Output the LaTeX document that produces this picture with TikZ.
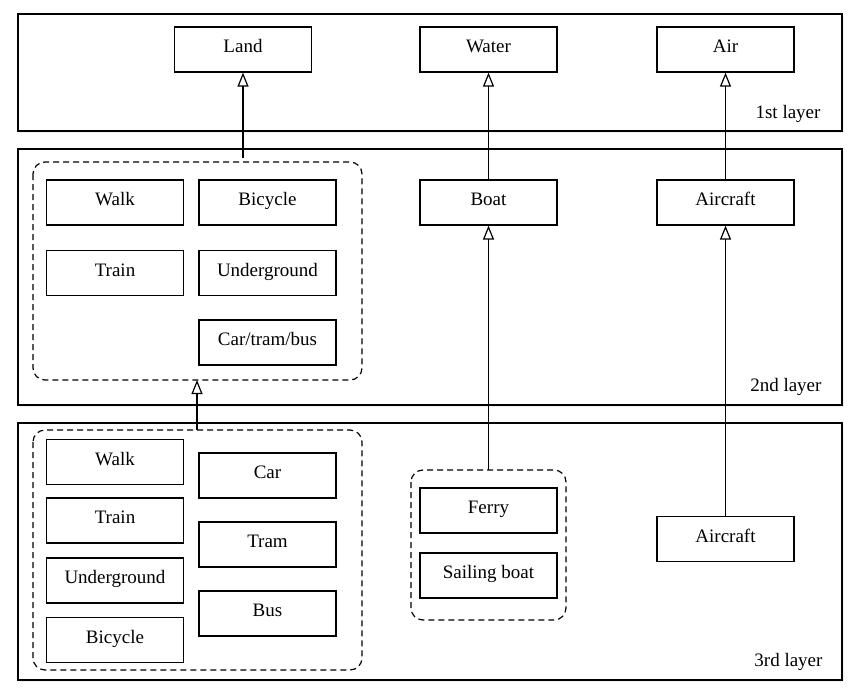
\documentclass[tikz,border=0pt]{standalone}
\usepackage{fontspec}
\setmainfont{Liberation Serif}
\usetikzlibrary{arrows.meta,shadows}

\begin{document}
\begin{tikzpicture}[x=1pt,y=1pt]
	\tikzstyle{every node}+=[font=\fontsize{19}{22}\selectfont]
	\tikzstyle{layer}=[draw=black, fill=white, line width=1.2pt, drop shadow={opacity=0.12, shadow xshift=2pt, shadow yshift=-2pt}]
	\tikzstyle{box}=[draw=black, fill=white, line width=1.2pt, minimum width=137pt, minimum height=45pt, inner sep=0pt, text height=12pt, text depth=6pt]
	\tikzstyle{group}=[draw=black, line width=1.2pt, rounded corners=12pt, dash pattern=on 6pt off 4pt]
	\tikzstyle{up}=[-{Triangle[open, length=14pt, width=11pt]}, line width=1.2pt]
	\useasboundingbox (0,0) rectangle (866,-699);
	% layers
	\draw [layer] (18,-14) rectangle (842,-131);
	\draw [layer] (18,-149) rectangle (842,-405);
	\draw [layer] (18,-423) rectangle (842,-680);
	\node [anchor=base east] (l1) at (824,-118) {1st layer};
	\node [anchor=base east] (l2) at (825,-391) {2nd layer};
	\node [anchor=base east] (l3) at (826,-666) {3rd layer};
	% 1st layer
	\node [box] (land) at (243,-49.5) {Land};
	\node [box] (water) at (488.5,-49.5) {Water};
	\node [box] (air) at (725.5,-49.5) {Air};
	% 2nd layer
	\draw [group] (33,-162) rectangle (362,-380);
	\coordinate (g2top) at (243,-158);
	\coordinate (g2bot) at (197,-380);
	\node [box] (walk2) at (115,-202.5) {Walk};
	\node [box] (bike2) at (267.5,-202.5) {Bicycle};
	\node [box] (train2) at (115,-273) {Train};
	\node [box] (under2) at (267.5,-273) {Underground};
	\node [box] (ctb2) at (267.5,-342.5) {Car/tram/bus};
	\node [box] (boat) at (488.5,-202.5) {Boat};
	\node [box] (craft2) at (725.5,-202.5) {Aircraft};
	% 3rd layer
	\draw [group] (33,-430) rectangle (362,-670);
	\coordinate (g3top) at (197,-430);
	\node [box] (walk3) at (115,-462) {Walk};
	\node [box] (train3) at (115,-520.5) {Train};
	\node [box] (under3) at (115,-580.5) {Underground};
	\node [box] (bike3) at (115,-640) {Bicycle};
	\node [box] (car3) at (267.5,-475.5) {Car};
	\node [box] (tram3) at (267.5,-544.5) {Tram};
	\node [box] (bus3) at (267.5,-613.5) {Bus};
	\draw [group] (411,-470) rectangle (566,-620);
	\coordinate (g4top) at (488.5,-470);
	\node [box] (ferry) at (488.5,-510.5) {Ferry};
	\node [box] (sail) at (488.5,-575.5) {Sailing boat};
	\node [box] (craft3) at (725.5,-539) {Aircraft};
	% arrows
	\draw [up] (g2top) -- (land.south);
	\draw [up] (boat.north) -- (water.south);
	\draw [up] (craft2.north) -- (air.south);
	\draw [up] (g3top) -- (g2bot);
	\draw [up] (g4top) -- (boat.south);
	\draw [up] (craft3.north) -- (craft2.south);
\end{tikzpicture}
\end{document}
